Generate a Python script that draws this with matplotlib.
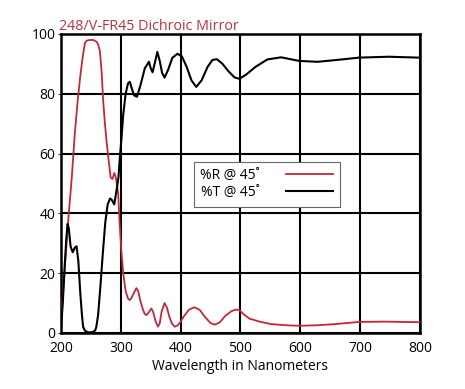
import numpy as np
import matplotlib.pyplot as plt

# reflectance (%R @ 45)
wl_r = [200, 205, 212, 218, 223, 228, 232, 236, 240, 243, 248, 254, 259.5, 262, 265,
        268, 270.5, 273, 276, 280, 283, 286, 289, 291, 293, 295.5, 298, 301, 304,
        308, 312, 315, 318, 322, 326, 329, 333, 337, 340, 343, 347, 351, 354, 358,
        362, 365, 368, 373, 377, 381, 385, 390, 394, 398, 405, 414, 423, 432, 440,
        450, 457, 465, 475, 485, 492, 498, 505, 515, 532, 550, 575, 598, 630, 660,
        698, 743, 770, 800]
refl = [4.5, 18, 37.5, 52, 66.5, 78, 85.5, 92, 97, 97.8, 98, 98, 97.4, 96.5, 94.3,
        87, 77.7, 71, 64.3, 57, 52, 51.5, 53.5, 52.5, 50.4, 46.6, 36.6, 27, 20,
        14, 11.5, 11, 11.8, 13.5, 15, 14, 10.5, 7.8, 6.3, 6, 7, 8.2, 7, 4,
        2.1, 3.2, 7, 10, 8.5, 5.5, 3.3, 2.1, 2.4, 3.2, 5.5, 7.8, 8.6, 7.7, 5.5,
        3.3, 2.8, 3.5, 5.8, 7.3, 7.8, 7.7, 6.3, 4.8, 3.8, 3.0, 2.6, 2.4, 2.6, 3.0,
        3.7, 3.8, 3.7, 3.6]

# transmittance (%T @ 45)
wl_t = [200, 203, 206, 209, 211, 213, 216, 219.5, 223, 226, 229, 232, 235, 237, 240,
        244, 248, 253, 257, 259, 262, 266, 270, 274, 278, 282, 285, 289, 293,
        296, 298, 301, 304, 308, 312, 315, 318, 322, 327, 333, 340, 347, 350,
        353, 357, 361, 365, 369, 373, 379, 386, 394.5, 402, 410, 418, 426, 435,
        445, 453, 460.5, 470, 480, 490, 498, 510, 525, 545, 568, 598, 629, 660,
        698, 748, 797, 800]
trans = [2, 10, 22, 32, 36.5, 35, 29, 27, 28.5, 29, 24, 14, 6, 2, 0.8,
         0.3, 0.2, 0.3, 0.8, 2, 6, 16, 27, 37, 43, 45, 44.5, 43, 48,
         52, 57.7, 65, 73, 80, 83.5, 84, 82, 79.5, 79, 83, 88.5, 90.7, 88.5,
         87.2, 90.5, 94, 91, 87, 85.4, 88, 92, 93.4, 92.5, 89, 84.5, 82.3, 84.5,
         89, 91.3, 91.6, 90, 87.5, 85.5, 85, 86.5, 89, 91.5, 92.2, 91, 90.7, 91.3,
         92.1, 92.4, 92.1, 92.1]

x_ticks = [200, 300, 400, 500, 600, 700, 800]
y_ticks = [0, 20, 40, 60, 80, 100]

red = '#c2283c'
title_red = '#b5333f'
font = ['Open Sans', 'DejaVu Sans']

fig = plt.figure(figsize=(4.65, 3.89), dpi=100)
ax = fig.add_axes([0.1312, 0.144, 0.772, 0.7686])

ax.plot(wl_r, refl, color=red, lw=1.3, label='%R @ 45\u02da', zorder=3,
        solid_joinstyle='round')
ax.plot(wl_t, trans, color='black', lw=1.5, label='%T @ 45\u02da', zorder=3,
        solid_joinstyle='round')

ax.set_xlim(200, 800)
ax.set_ylim(0, 100)
ax.set_xticks(x_ticks)
ax.set_yticks(y_ticks)
ax.grid(True, color='black', lw=1.5)
ax.set_axisbelow(True)
for s in ax.spines.values():
    s.set_linewidth(1.8)

ax.tick_params(axis='x', length=0, pad=6, labelsize=10)
ax.tick_params(axis='y', length=2, width=0.6, pad=2, labelsize=10)
for lab in ax.get_xticklabels() + ax.get_yticklabels():
    lab.set_family(font)

ax.set_xlabel('Wavelength in Nanometers', family=font, fontsize=10, labelpad=2)
ax.set_title('248/V-FR45 Dichroic Mirror', loc='left', color=title_red,
             family=font, fontsize=10.3, pad=3, x=-0.005)

leg = ax.legend(loc='upper left', bbox_to_anchor=(0.37, 0.572), markerfirst=False,
                fancybox=False, framealpha=1, edgecolor='#666666',
                prop={'family': font, 'size': 10}, handlelength=3.4,
                handletextpad=1.9, borderpad=0.45, labelspacing=0.15,
                borderaxespad=0)
leg.get_frame().set_linewidth(0.8)

fig.savefig('out.png', dpi=100)
